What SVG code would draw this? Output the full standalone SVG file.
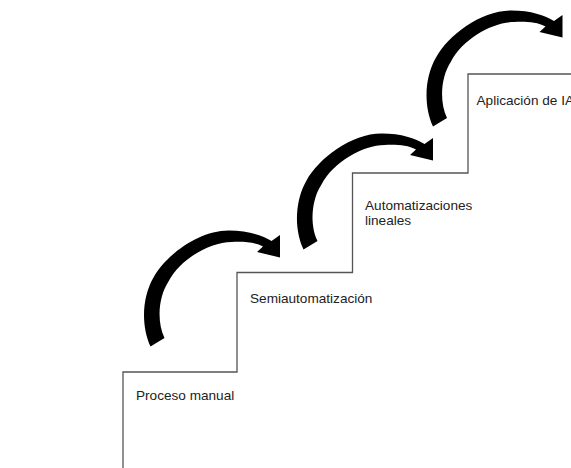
<svg xmlns="http://www.w3.org/2000/svg" width="571" height="468" viewBox="0 0 571 468">
  <defs>
    <style>
      .stair { fill: none; stroke: #555; stroke-width: 1.3; }
      .lbl { font-family: "Liberation Sans", Arial, sans-serif; font-size: 13.6px; fill: #222; }
      .arr { fill: #000; stroke: none; }
    </style>
    <path id="curvedArrow" class="arr" d="M0,0 C-10,-22 -8,-50 3,-69 C15,-91 48,-116 78,-116 C98,-116 112,-111 121,-105.5 L129.5,-111.5 L129.5,-89 L106.5,-94.5 L112.5,-100 C104,-104.5 93,-105 81,-104.5 C60,-104.5 30,-88 18,-65 C8,-50 6,-25 14,-8.5 Z"/>
  </defs>
  <rect width="571" height="468" fill="#fff"/>
  <g id="stairs">
    <path class="stair" d="M123,468 V372 H237 V272.5 H352.5 V173 H468 V74 H571"/>
  </g>
  <g id="step-proceso-manual">
    <text class="lbl" x="136" y="400">Proceso manual</text>
  </g>
  <g id="step-semiautomatizacion">
    <text class="lbl" x="250" y="303">Semiautomatización</text>
  </g>
  <g id="step-automatizaciones-lineales">
    <text class="lbl" x="365" y="210">Automatizaciones</text>
    <text class="lbl" x="365" y="225">lineales</text>
  </g>
  <g id="step-aplicacion-ia">
    <text class="lbl" x="476.5" y="104.5">Aplicación de IA</text>
  </g>
  <g id="connectors">
    <use href="#curvedArrow" transform="translate(150.5,346.5)"/>
    <use href="#curvedArrow" transform="translate(303.5,249.5)"/>
    <use href="#curvedArrow" transform="translate(433,126.5)"/>
  </g>
</svg>
